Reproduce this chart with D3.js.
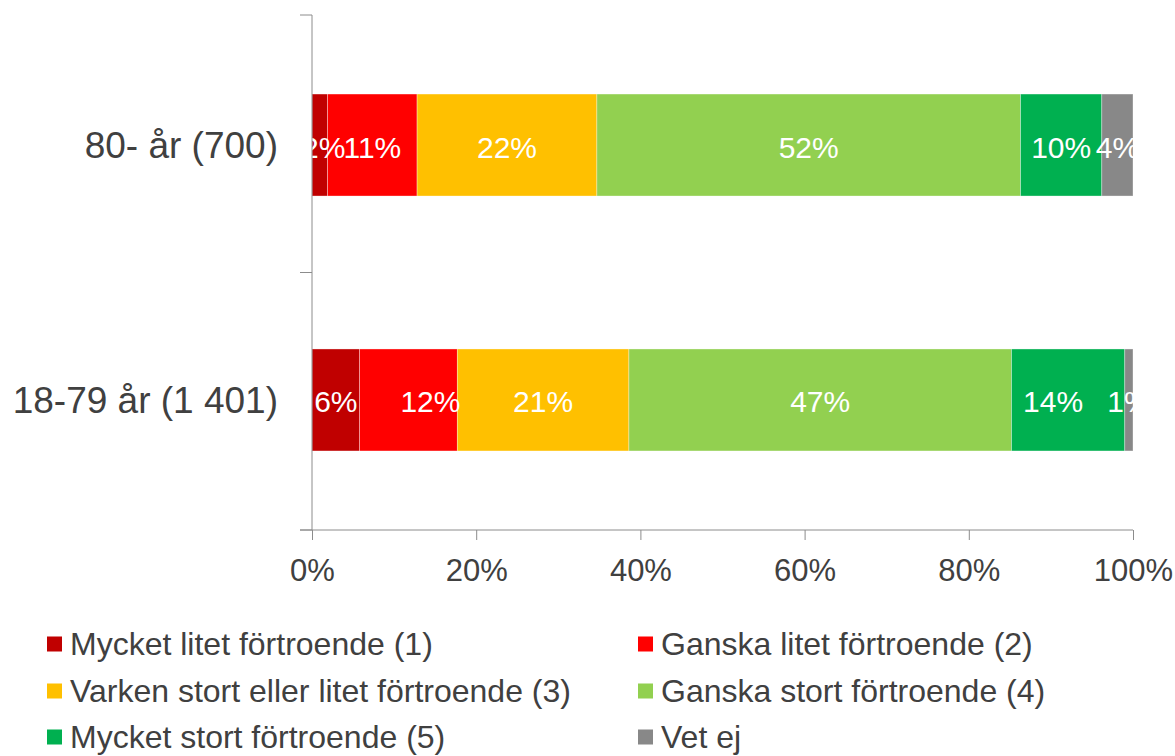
<!DOCTYPE html>
<html><head><meta charset="utf-8">
<script src="https://cdn.jsdelivr.net/npm/d3@7"></script>
<style>body{margin:0;background:#fff}svg{display:block}text{font-family:"Liberation Sans",Arial,sans-serif}</style>
</head><body><svg id="c" width="1175" height="756"></svg>
<script>
// ---- data ----
const categories = ["80- år (700)", "18-79 år (1 401)"];
const seriesNames = [
  "Mycket litet förtroende (1)",
  "Ganska litet förtroende (2)",
  "Varken stort eller litet förtroende (3)",
  "Ganska stort förtroende (4)",
  "Mycket stort förtroende (5)",
  "Vet ej"
];
const mycketLitet = [1.9, 5.8];
const ganskaLitet = [10.9, 11.9];
const varken      = [21.9, 20.9];
const ganskaStort = [51.6, 46.6];
const mycketStort = [9.9, 13.8];
const vetEj       = [3.8, 1.0];
const tickValues  = [0, 20, 40, 60, 80, 100];

const seriesValues = [mycketLitet, ganskaLitet, varken, ganskaStort, mycketStort, vetEj];
const seriesColors = ["#C00000", "#FF0000", "#FFC000", "#92D050", "#00B050", "#888888"];
// manual label nudges (px) as in the original, keyed "series-category"
const labelNudge = {"0-0": 4, "1-1": 22, "4-1": -15};

(function () {
// ---- build table ----
const table = categories.map((c, ci) => {
  const row = {cat: c};
  seriesNames.forEach((s, si) => row[s] = seriesValues[si][ci]);
  return row;
});
const stack = d3.stack().keys(seriesNames)(table);

const svg = d3.select("#c");
const pLeft = 312, pRight = 1133, pTop = 15, pBottom = 530;
const x = d3.scaleLinear().domain([0, 100]).range([pLeft, pRight]);
const y = d3.scaleBand().domain(categories).range([pTop, pBottom]).paddingInner(0.6).paddingOuter(0.31);
const textColor = "#404040";
const axisColor = "#8c8c8c";
const ff = '"Liberation Sans",Arial,sans-serif';

// clip for plot area
svg.append("defs").append("clipPath").attr("id", "plotclip")
  .append("rect").attr("x", pLeft).attr("y", pTop).attr("width", pRight - pLeft).attr("height", pBottom - pTop);

// bars
const gBars = svg.append("g");
stack.forEach((layer, si) => {
  gBars.selectAll(null).data(layer).join("rect")
    .attr("x", d => x(d[0]))
    .attr("y", d => y(d.data.cat))
    .attr("width", d => x(d[1]) - x(d[0]))
    .attr("height", y.bandwidth())
    .attr("fill", seriesColors[si])
    .attr("stroke", "#ffffff").attr("stroke-opacity", 0.45).attr("stroke-width", 0.75);
});

// data labels
const gLab = svg.append("g").attr("clip-path", "url(#plotclip)");
stack.forEach((layer, si) => {
  gLab.selectAll(null).data(layer).join("text")
    .attr("x", (d, ci) => (x(d[0]) + x(d[1])) / 2 + (labelNudge[si + "-" + ci] || 0))
    .attr("y", d => y(d.data.cat) + y.bandwidth() / 2 + 2)
    .attr("text-anchor", "middle").attr("dominant-baseline", "central")
    .attr("fill", "#ffffff").attr("font-size", 30)
    .text(d => Math.round(d[1] - d[0]) + "%");
});

// x axis
const xAxis = svg.append("g").attr("transform", `translate(0,${pBottom})`)
  .call(d3.axisBottom(x).tickValues(tickValues).tickFormat(d => d + "%").tickSize(10).tickSizeOuter(0).tickPadding(19));
xAxis.select(".domain").remove();
xAxis.append("line").attr("x1", pLeft - 12).attr("x2", pRight).attr("y1", 0).attr("y2", 0).attr("stroke", axisColor);
xAxis.selectAll(".tick line").attr("stroke", axisColor);
xAxis.selectAll(".tick text").attr("fill", textColor).attr("font-size", 31).attr("font-family", ff);

// y axis
const yAxis = svg.append("g").attr("transform", `translate(${pLeft},0)`)
  .call(d3.axisLeft(y).tickSize(0).tickPadding(34));
yAxis.select(".domain").remove();
yAxis.selectAll(".tick text").attr("fill", textColor).attr("font-size", 37).attr("font-family", ff).attr("dy", "0.36em");
yAxis.append("line").attr("x1", 0).attr("x2", 0).attr("y1", pTop).attr("y2", pBottom).attr("stroke", axisColor);
const boundaries = [y.range()[0]]
  .concat(categories.slice(1).map(c => y(c) - y.step() * y.paddingInner() / 2))
  .concat([y.range()[1]]);
yAxis.selectAll(null).data(boundaries).join("line")
  .attr("x1", -12).attr("x2", 0).attr("y1", d => d).attr("y2", d => d).attr("stroke", axisColor);

// legend
const legCols = [47, 638], legRows = [644, 691, 737];
const gLeg = svg.append("g");
seriesNames.forEach((s, i) => {
  const cx = legCols[i % 2], cy = legRows[Math.floor(i / 2)];
  gLeg.append("rect").attr("x", cx).attr("y", cy - 7.5).attr("width", 15).attr("height", 15).attr("fill", seriesColors[i]);
  gLeg.append("text").attr("x", cx + 23).attr("y", cy).attr("dominant-baseline", "central")
    .attr("fill", textColor).attr("font-size", 32).text(s);
});
})();
</script></body></html>
